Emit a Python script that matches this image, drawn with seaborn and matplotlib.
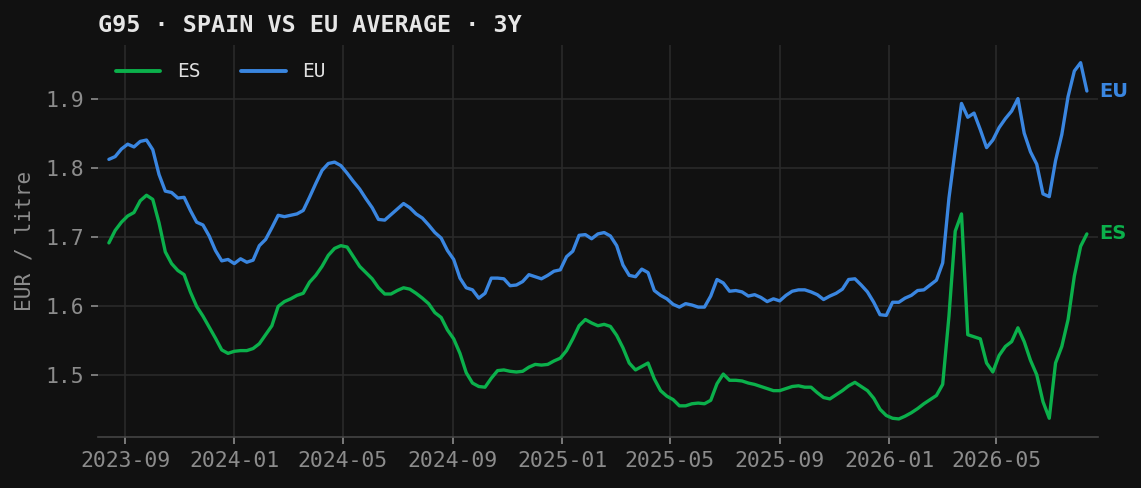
import pandas as pd
import seaborn as sns
import matplotlib.pyplot as plt
import matplotlib.dates as mdates

# Datos: precio semanal G95 (EUR/litro), España vs media UE
fechas = pd.date_range("2023-08-14", periods=157, freq="7D")

precio_eu = [
    1.812, 1.816, 1.827, 1.834, 1.830, 1.838, 1.840, 1.826, 1.790, 1.766,
    1.764, 1.756, 1.757, 1.738, 1.721, 1.717, 1.701, 1.680, 1.665, 1.667,
    1.661, 1.668, 1.663, 1.666, 1.687, 1.696, 1.713, 1.731, 1.729, 1.731,
    1.733, 1.738, 1.757, 1.777, 1.796, 1.806, 1.808, 1.803, 1.792, 1.780,
    1.769, 1.755, 1.742, 1.725, 1.724, 1.732, 1.740, 1.748, 1.742, 1.733,
    1.727, 1.717, 1.706, 1.698, 1.680, 1.667, 1.640, 1.626, 1.623, 1.611,
    1.618, 1.640, 1.640, 1.639, 1.629, 1.630, 1.635, 1.645, 1.642, 1.639,
    1.644, 1.650, 1.652, 1.671, 1.679, 1.702, 1.703, 1.697, 1.704, 1.706,
    1.701, 1.687, 1.659, 1.644, 1.642, 1.653, 1.648, 1.622, 1.615, 1.610,
    1.602, 1.598, 1.603, 1.601, 1.598, 1.598, 1.614, 1.638, 1.633, 1.621,
    1.622, 1.620, 1.614, 1.616, 1.612, 1.606, 1.610, 1.607, 1.615, 1.621,
    1.623, 1.623, 1.620, 1.616, 1.609, 1.614, 1.618, 1.624, 1.638, 1.639,
    1.630, 1.620, 1.605, 1.587, 1.586, 1.605, 1.605, 1.611, 1.615, 1.622,
    1.623, 1.630, 1.637, 1.662, 1.756, 1.826, 1.893, 1.873, 1.879, 1.855,
    1.829, 1.840, 1.858, 1.871, 1.882, 1.900, 1.850, 1.823, 1.805, 1.762,
    1.758, 1.810, 1.848, 1.903, 1.940, 1.952, 1.911,
]

precio_es = [
    1.691, 1.709, 1.721, 1.730, 1.735, 1.752, 1.760, 1.754, 1.720, 1.678,
    1.661, 1.651, 1.645, 1.620, 1.599, 1.585, 1.569, 1.553, 1.536, 1.531,
    1.534, 1.535, 1.535, 1.538, 1.545, 1.558, 1.571, 1.599, 1.606, 1.610,
    1.615, 1.618, 1.634, 1.644, 1.657, 1.673, 1.683, 1.687, 1.685, 1.671,
    1.657, 1.648, 1.639, 1.626, 1.617, 1.617, 1.622, 1.626, 1.624, 1.618,
    1.611, 1.603, 1.590, 1.583, 1.565, 1.552, 1.531, 1.503, 1.488, 1.483,
    1.482, 1.495, 1.506, 1.507, 1.505, 1.504, 1.505, 1.511, 1.515, 1.514,
    1.515, 1.520, 1.524, 1.535, 1.552, 1.571, 1.580, 1.575, 1.571, 1.573,
    1.570, 1.557, 1.539, 1.517, 1.507, 1.512, 1.517, 1.494, 1.477, 1.469,
    1.464, 1.455, 1.455, 1.458, 1.459, 1.458, 1.463, 1.487, 1.501, 1.492,
    1.492, 1.491, 1.488, 1.486, 1.483, 1.480, 1.477, 1.477, 1.480, 1.483,
    1.484, 1.482, 1.482, 1.474, 1.467, 1.465, 1.471, 1.477, 1.484, 1.489,
    1.483, 1.477, 1.466, 1.450, 1.441, 1.437, 1.436, 1.440, 1.445, 1.451,
    1.458, 1.464, 1.470, 1.486, 1.585, 1.708, 1.733, 1.558, 1.555, 1.552,
    1.517, 1.504, 1.528, 1.541, 1.548, 1.568, 1.548, 1.521, 1.500, 1.461,
    1.437, 1.517, 1.541, 1.580, 1.643, 1.686, 1.704,
]

series = ["ES", "EU"]
colores = {"ES": "#0bb04b", "EU": "#3a86e0"}

df = pd.concat([
    pd.DataFrame({"fecha": fechas, "serie": "ES", "precio": precio_es}),
    pd.DataFrame({"fecha": fechas, "serie": "EU", "precio": precio_eu}),
])

# Estilo oscuro
fondo = "#111111"
sns.set_theme(style="dark", rc={
    "figure.facecolor": fondo,
    "axes.facecolor": fondo,
    "axes.grid": True,
    "grid.color": "#2a2a2a",
    "grid.linewidth": 1.2,
    "axes.edgecolor": "#444444",
    "xtick.color": "#8c8c8c",
    "ytick.color": "#8c8c8c",
    "axes.labelcolor": "#8c8c8c",
    "text.color": "#e6e6e6",
    "xtick.bottom": True,
    "ytick.left": True,
})
plt.rcParams["font.family"] = ["DejaVu Sans Mono", "DejaVu Sans"]

fig, ax = plt.subplots(figsize=(11.41, 4.88), dpi=100)
fig.subplots_adjust(left=0.086, right=0.962, bottom=0.105, top=0.908)

sns.lineplot(data=df, x="fecha", y="precio", hue="serie", hue_order=series,
             palette=colores, linewidth=2.4, ax=ax)

ax.margins(x=0.011)
for lado in ["top", "right", "left"]:
    ax.spines[lado].set_visible(False)
ax.spines["bottom"].set_color("#444444")
ax.spines["bottom"].set_linewidth(1.2)

ax.xaxis.set_major_locator(mdates.MonthLocator(bymonth=[1, 5, 9]))
ax.xaxis.set_major_formatter(mdates.DateFormatter("%Y-%m"))
ax.set_yticks([1.5, 1.6, 1.7, 1.8, 1.9])
ax.tick_params(axis="both", labelsize=15.4, length=5, width=1.2, color="#8c8c8c", pad=5)

ax.set_xlabel("")
ax.set_ylabel("EUR / litre", fontsize=15.2, labelpad=8)
ax.set_title("G95 · SPAIN VS EU AVERAGE · 3Y", loc="left", fontsize=16.8,
             fontweight="bold", color="#e6e6e6", pad=9)

leg = ax.legend(loc="upper left", ncol=2, frameon=False, fontsize=14,
                handlelength=2.3, handletextpad=0.85, columnspacing=2.1)
for t in leg.get_texts():
    t.set_color("#e0e0e0")
for h in leg.get_lines():
    h.set_linewidth(2.8)

# Etiquetas al final de cada serie
for nombre, valores in [("EU", precio_eu), ("ES", precio_es)]:
    ax.annotate(nombre, xy=(fechas[-1], valores[-1]), xytext=(9, 0),
                textcoords="offset points", va="center", ha="left",
                fontsize=14, fontweight="bold", color=colores[nombre],
                family="DejaVu Sans", annotation_clip=False)

fig.savefig("out.png", dpi=100, facecolor=fondo)
